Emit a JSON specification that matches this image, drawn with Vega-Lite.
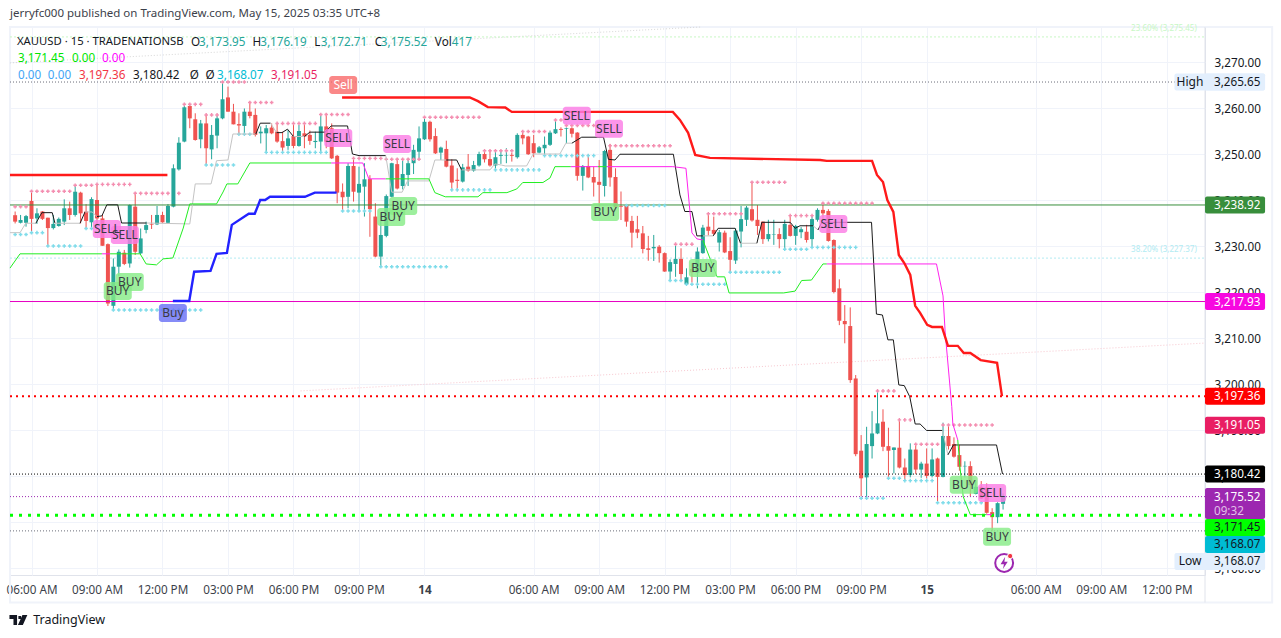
{"$schema":"https://vega.github.io/schema/vega-lite/v6.json","width":1195,"height":548,"autosize":"none","padding":{"left":10,"top":27,"right":76,"bottom":63},"background":"#ffffff","config":{"view":{"stroke":"#e0e3eb","strokeWidth":1},"font":"Noto Sans"},
"datasets":{
"candles":[
{"i":-3,"o":3236.7,"h":3237.5,"l":3234.9,"c":3235.3},{"i":-2,"o":3235.05,"h":3236.75,"l":3234.9,"c":3235.65},{"i":-1,"o":3235.05,"h":3236.75,"l":3234.2,"c":3236.5},{"i":0,"o":3239.8,"h":3242,"l":3232.75,"c":3235.9},{"i":1,"o":3236,"h":3238.2,"l":3234.8,"c":3237.1},{"i":2,"o":3237.5,"h":3237.6,"l":3235.65,"c":3235.9},{"i":3,"o":3236.15,"h":3236.15,"l":3229.85,"c":3233.9},{"i":4,"o":3233.9,"h":3236.75,"l":3233.6,"c":3234.8},{"i":5,"o":3234.35,"h":3236.2,"l":3234.2,"c":3235.9},{"i":6,"o":3235.3,"h":3240.15,"l":3234.55,"c":3238.2},{"i":7,"o":3238.2,"h":3239.65,"l":3235.65,"c":3236.75},{"i":8,"o":3236.75,"h":3243.25,"l":3236.4,"c":3241.8},{"i":9,"o":3241.6,"h":3241.8,"l":3234.9,"c":3237.1},{"i":10,"o":3237.5,"h":3239.1,"l":3233.8,"c":3235.45},{"i":11,"o":3235.15,"h":3240.6,"l":3233.8,"c":3240.2},{"i":12,"o":3240,"h":3243.5,"l":3233.5,"c":3236},{"i":13,"o":3236,"h":3236.75,"l":3230.05,"c":3230.05},{"i":14,"o":3230.4,"h":3230.55,"l":3216.95,"c":3217.5},{"i":15,"o":3217,"h":3227.3,"l":3215.95,"c":3225.5},{"i":16,"o":3225.5,"h":3229.25,"l":3223.45,"c":3228.75},{"i":17,"o":3228.55,"h":3229.15,"l":3225.85,"c":3226.1},{"i":18,"o":3226.2,"h":3239.05,"l":3225.3,"c":3238.9},{"i":19,"o":3238.55,"h":3241.6,"l":3228.05,"c":3228.75},{"i":20,"o":3228.4,"h":3233.8,"l":3228.25,"c":3231.65},{"i":21,"o":3233.5,"h":3235.3,"l":3232.75,"c":3234.55},{"i":22,"o":3234.8,"h":3236.75,"l":3233.7,"c":3234.65},{"i":23,"o":3234.7,"h":3238.7,"l":3234.55,"c":3236.75},{"i":24,"o":3236.75,"h":3237.45,"l":3235.05,"c":3235.15},{"i":25,"o":3235.05,"h":3239.1,"l":3234.9,"c":3238.7},{"i":26,"o":3238.55,"h":3247.75,"l":3238.4,"c":3246.9},{"i":27,"o":3246.65,"h":3253.65,"l":3246.4,"c":3252.45},{"i":28,"o":3252.7,"h":3260.9,"l":3252.55,"c":3260.15},{"i":29,"o":3260.45,"h":3260.9,"l":3255.6,"c":3257.75},{"i":30,"o":3257.55,"h":3258.85,"l":3252.9,"c":3253.05},{"i":31,"o":3253.2,"h":3257.4,"l":3251.25,"c":3256.65},{"i":32,"o":3256.65,"h":3258.5,"l":3247.6,"c":3251.25},{"i":33,"o":3251,"h":3256.3,"l":3248.85,"c":3254.15},{"i":34,"o":3254,"h":3258.3,"l":3251.25,"c":3257.75},{"i":35,"o":3257.75,"h":3265.65,"l":3257.55,"c":3261.9},{"i":36,"o":3262.3,"h":3264.65,"l":3259.2,"c":3259.2},{"i":37,"o":3259.2,"h":3260.9,"l":3256.45,"c":3256.45},{"i":38,"o":3256.5,"h":3258.85,"l":3254.15,"c":3256.2},{"i":39,"o":3256.1,"h":3259.9,"l":3254.15,"c":3259.2},{"i":40,"o":3259.2,"h":3261.4,"l":3257.75,"c":3258.25},{"i":41,"o":3258.5,"h":3259.9,"l":3253.8,"c":3254.15},{"i":42,"o":3254.5,"h":3256,"l":3252.3,"c":3254.85},{"i":43,"o":3254.5,"h":3256.3,"l":3250.3,"c":3255.6},{"i":44,"o":3255.75,"h":3256.65,"l":3254.3,"c":3254.5},{"i":45,"o":3254.85,"h":3256.8,"l":3252.45,"c":3252.7},{"i":46,"o":3252.8,"h":3254.85,"l":3250.5,"c":3251.4},{"i":47,"o":3251.75,"h":3255.2,"l":3250.9,"c":3253.4},{"i":48,"o":3253.9,"h":3256.65,"l":3251.25,"c":3251.75},{"i":49,"o":3251.75,"h":3256.3,"l":3251.6,"c":3255},{"i":50,"o":3254.5,"h":3256.3,"l":3251.25,"c":3253.8},{"i":51,"o":3254.15,"h":3255.1,"l":3252,"c":3252.85},{"i":52,"o":3252.6,"h":3254.85,"l":3251.25,"c":3252.85},{"i":53,"o":3252.7,"h":3258.65,"l":3250.5,"c":3256},{"i":54,"o":3256,"h":3258.85,"l":3251.25,"c":3252.7},{"i":55,"o":3255.6,"h":3256.65,"l":3248.9,"c":3249.05},{"i":56,"o":3249.6,"h":3249.8,"l":3239.3,"c":3241.6},{"i":57,"o":3241.8,"h":3243.6,"l":3237.7,"c":3240.6},{"i":58,"o":3240.7,"h":3248,"l":3238.2,"c":3247.4},{"i":59,"o":3247.4,"h":3249.3,"l":3239.65,"c":3241.8},{"i":60,"o":3241.6,"h":3247.25,"l":3237.45,"c":3243.5},{"i":61,"o":3242.9,"h":3248,"l":3236.4,"c":3244.5},{"i":62,"o":3244.55,"h":3245.4,"l":3232,"c":3238},{"i":63,"o":3236.4,"h":3239.3,"l":3227.55,"c":3227.7},{"i":64,"o":3227.7,"h":3237.25,"l":3225.5,"c":3232.4},{"i":65,"o":3232.2,"h":3241.2,"l":3231.9,"c":3240.85},{"i":66,"o":3240.7,"h":3248.1,"l":3240.6,"c":3248},{"i":67,"o":3247.8,"h":3249.05,"l":3242.3,"c":3242.5},{"i":68,"o":3243.05,"h":3248.9,"l":3242.3,"c":3245.65},{"i":69,"o":3245.45,"h":3249.05,"l":3243.05,"c":3248},{"i":70,"o":3248,"h":3252,"l":3245.65,"c":3250.9},{"i":71,"o":3250.5,"h":3256,"l":3248.7,"c":3253.4},{"i":72,"o":3253.2,"h":3258,"l":3253.05,"c":3257},{"i":73,"o":3257,"h":3257.25,"l":3252.7,"c":3253.2},{"i":74,"o":3253.9,"h":3255.6,"l":3250,"c":3250.15},{"i":75,"o":3250.3,"h":3251.6,"l":3248.7,"c":3251.4},
{"i":76,"o":3251.1,"h":3252.9,"l":3247.1,"c":3247.25},{"i":77,"o":3247.5,"h":3248.85,"l":3242.05,"c":3243.8},{"i":78,"o":3244.4,"h":3246.9,"l":3242.05,"c":3244.15},{"i":79,"o":3244,"h":3247.85,"l":3243.8,"c":3247.1},{"i":80,"o":3247.25,"h":3250,"l":3246.15,"c":3246.4},{"i":81,"o":3246.4,"h":3248.5,"l":3246.15,"c":3247.6},{"i":82,"o":3247.5,"h":3250.5,"l":3247.25,"c":3250},{"i":83,"o":3250,"h":3250.9,"l":3248.15,"c":3248.85},{"i":84,"o":3248.9,"h":3250.9,"l":3247.25,"c":3247.5},{"i":85,"o":3247.5,"h":3250.9,"l":3246.4,"c":3249.3},{"i":86,"o":3249.6,"h":3250.9,"l":3247.85,"c":3249.8},{"i":87,"o":3249.6,"h":3251.25,"l":3248,"c":3249.7},{"i":88,"o":3249.8,"h":3250.3,"l":3248.35,"c":3249.6},{"i":89,"o":3249.3,"h":3254.5,"l":3249,"c":3254.15},{"i":90,"o":3254.15,"h":3254.85,"l":3252.1,"c":3253.4},{"i":91,"o":3253.8,"h":3253.95,"l":3249.8,"c":3249.95},{"i":92,"o":3252.35,"h":3254.15,"l":3249.3,"c":3250.15},{"i":93,"o":3250.3,"h":3251.75,"l":3250.15,"c":3251.45},{"i":94,"o":3251.25,"h":3253.8,"l":3249.8,"c":3252},{"i":95,"o":3252,"h":3255.1,"l":3251.75,"c":3254.65},{"i":96,"o":3254.5,"h":3257.4,"l":3254.35,"c":3255.4},{"i":97,"o":3255.45,"h":3255.8,"l":3253.8,"c":3255.25},{"i":98,"o":3255.45,"h":3255.75,"l":3252.35,"c":3255.6},{"i":99,"o":3255.6,"h":3255.8,"l":3253.6,"c":3254.4},{"i":100,"o":3254.65,"h":3254.75,"l":3244.2,"c":3245.25},{"i":101,"o":3245.25,"h":3247.6,"l":3242.05,"c":3247.4},{"i":102,"o":3247.4,"h":3249.95,"l":3244.75,"c":3244.9},{"i":103,"o":3245,"h":3247.25,"l":3240.75,"c":3243.8},{"i":104,"o":3243.95,"h":3248.7,"l":3238.55,"c":3243.3},{"i":105,"o":3243.05,"h":3250.9,"l":3240.75,"c":3250.65},{"i":106,"o":3250.9,"h":3252.2,"l":3242.9,"c":3244.9},{"i":107,"o":3245,"h":3246.9,"l":3238.2,"c":3238.45},{"i":108,"o":3238.7,"h":3241.85,"l":3235.65,"c":3238.55},{"i":109,"o":3238.9,"h":3238.9,"l":3234.2,"c":3235.3},{"i":110,"o":3235.45,"h":3236.55,"l":3229.65,"c":3232.9},{"i":111,"o":3233.65,"h":3236.55,"l":3231.7,"c":3232.9},{"i":112,"o":3232.75,"h":3234.35,"l":3228.4,"c":3229.35},{"i":113,"o":3229.5,"h":3232.2,"l":3226.8,"c":3229.15},{"i":114,"o":3229.5,"h":3232.4,"l":3226.75,"c":3229.8},{"i":115,"o":3229.85,"h":3230.2,"l":3226.4,"c":3228.45},{"i":116,"o":3228.45,"h":3228.6,"l":3224.4,"c":3224.45},{"i":117,"o":3224.45,"h":3227.1,"l":3222.5,"c":3226.5},{"i":118,"o":3226.1,"h":3230.45,"l":3223.3,"c":3227.2},{"i":119,"o":3227.2,"h":3229.5,"l":3222.6,"c":3223.9},{"i":120,"o":3221.7,"h":3225.15,"l":3221.5,"c":3223.2},{"i":121,"o":3225,"h":3226.25,"l":3222.05,"c":3224.25},{"i":122,"o":3224.2,"h":3229.7,"l":3220.8,"c":3228.8},{"i":123,"o":3228.45,"h":3234.6,"l":3228.3,"c":3234},{"i":124,"o":3234.2,"h":3237,"l":3232.3,"c":3233.3},{"i":125,"o":3233.5,"h":3236.4,"l":3232.4,"c":3232.65},{"i":126,"o":3230.75,"h":3233.5,"l":3228.8,"c":3233},{"i":127,"o":3232.9,"h":3233.35,"l":3228.45,"c":3228.6},{"i":128,"o":3228.9,"h":3231.9,"l":3224.2,"c":3227},{"i":129,"o":3226.85,"h":3233.85,"l":3226.1,"c":3233.35},{"i":130,"o":3233.15,"h":3238.7,"l":3229.7,"c":3235.85},{"i":131,"o":3235.7,"h":3238.7,"l":3234.35,"c":3238.35},{"i":132,"o":3238,"h":3244,"l":3235.3,"c":3235.55},{"i":133,"o":3235.7,"h":3238.9,"l":3232.4,"c":3234.35},{"i":134,"o":3235.3,"h":3235.3,"l":3230.45,"c":3231.5},{"i":135,"o":3231.5,"h":3235.7,"l":3231,"c":3232.6},{"i":136,"o":3232.5,"h":3235.7,"l":3230.25,"c":3232.6},{"i":137,"o":3232.6,"h":3233.85,"l":3229.5,"c":3231.5},{"i":138,"o":3231.5,"h":3235.7,"l":3229.3,"c":3234.8},{"i":139,"o":3234.6,"h":3236.75,"l":3232.05,"c":3232.2},{"i":140,"o":3232.2,"h":3234.6,"l":3230.25,"c":3234.35},{"i":141,"o":3233,"h":3234.1,"l":3231.7,"c":3233.65},{"i":142,"o":3233.1,"h":3234.6,"l":3230.75,"c":3231.3},{"i":143,"o":3231.5,"h":3236.55,"l":3229.75,"c":3235.85},{"i":144,"o":3235.7,"h":3238.2,"l":3235.3,"c":3237.85},{"i":145,"o":3237.85,"h":3239.45,"l":3235.7,"c":3237.1},{"i":146,"o":3237.6,"h":3238,"l":3230.95,"c":3231.1},{"i":147,"o":3231.3,"h":3231.45,"l":3219.7,"c":3220},{"i":148,"o":3220.8,"h":3222.75,"l":3212.8,"c":3213.75},{"i":149,"o":3213.7,"h":3217.15,"l":3208.85,"c":3213},{"i":150,"o":3212.6,"h":3216.65,"l":3200.25,"c":3200.85},{"i":151,"o":3201.2,"h":3201.95,"l":3184.3,"c":3184.75},{"i":152,"o":3185.5,"h":3188.9,"l":3175.6,"c":3179.5},{"i":153,"o":3179.7,"h":3190.7,"l":3175.25,"c":3186.95},{"i":154,"o":3186.5,"h":3194.1,"l":3183.8,"c":3189.25},{"i":155,"o":3189.25,"h":3198.45,"l":3189.1,"c":3191.45},{"i":156,"o":3191.8,"h":3194.5,"l":3185.4,"c":3186.35},{"i":157,"o":3186.5,"h":3190.5,"l":3179.6,"c":3185.5},{"i":158,"o":3185.65,"h":3186.2,"l":3180.55,"c":3186.2},{"i":159,"o":3186.15,"h":3192.15,"l":3181.65,"c":3181.85},{"i":160,"o":3181.85,"h":3183.8,"l":3179.1,"c":3180.2},{"i":161,"o":3180.2,"h":3187.1,"l":3179.7,"c":3185.75},{"i":162,"o":3185.75,"h":3186.7,"l":3180.4,"c":3181.4},{"i":163,"o":3181.4,"h":3183.1,"l":3179.6,"c":3182.7},{"i":164,"o":3182.7,"h":3186,"l":3179.45,"c":3180},{"i":165,"o":3180,"h":3186,"l":3179.7,"c":3183.6},{"i":166,"o":3183.8,"h":3184,"l":3174.2,"c":3179.8},{"i":167,"o":3179.8,"h":3191.6,"l":3179.7,"c":3188.7},{"i":168,"o":3188.7,"h":3190.85,"l":3185.75,"c":3186.5},{"i":169,"o":3186.95,"h":3188.4,"l":3184,"c":3184.2},{"i":170,"o":3184.55,"h":3186.7,"l":3181.15,"c":3182},{"i":171,"o":3182.1,"h":3183.2,"l":3179.7,"c":3182.2},{"i":172,"o":3182.15,"h":3183.2,"l":3175.6,"c":3178},{"i":173,"o":3176.1,"h":3179,"l":3176,"c":3177.65},{"i":174,"o":3177.65,"h":3178.9,"l":3175,"c":3175.1},{"i":175,"o":3177.5,"h":3178.4,"l":3171.8,"c":3172},{"i":176,"o":3172.15,"h":3173,"l":3168.07,"c":3171.05},{"i":177,"o":3171.05,"h":3174.3,"l":3169.75,"c":3174.1},{"i":178,"o":3173.95,"h":3176.19,"l":3172.71,"c":3175.52}],
"pinkStops":[{"i":-3,"p":3238.55},{"i":-2,"p":3238.55},{"i":-1,"p":3238.55},{"i":0,"p":3241.9},{"i":1,"p":3241.9},{"i":2,"p":3241.9},{"i":3,"p":3241.9},{"i":4,"p":3241.9},{"i":5,"p":3241.9},{"i":6,"p":3241.9},{"i":7,"p":3241.9},{"i":8,"p":3243.2},{"i":9,"p":3243.2},{"i":10,"p":3243.2},{"i":11,"p":3243.2},{"i":12,"p":3243.4},{"i":13,"p":3243.4},{"i":14,"p":3243.4},{"i":15,"p":3243.4},{"i":16,"p":3243.4},{"i":17,"p":3243.4},{"i":18,"p":3243.4},{"i":19,"p":3241.45},{"i":20,"p":3241.45},{"i":21,"p":3241.45},{"i":22,"p":3241.45},{"i":23,"p":3241.45},{"i":24,"p":3241.45},{"i":25,"p":3241.45},{"i":27,"p":3241.45},{"i":28,"p":3260.8},{"i":29,"p":3260.8},{"i":30,"p":3260.8},{"i":31,"p":3260.8},{"i":32,"p":3258.5},{"i":33,"p":3258.5},{"i":34,"p":3258.5},{"i":35,"p":3265.65},{"i":36,"p":3265.65},{"i":37,"p":3265.65},{"i":38,"p":3265.65},{"i":39,"p":3265.65},{"i":40,"p":3261.2},{"i":41,"p":3261.2},{"i":42,"p":3261.2},{"i":43,"p":3261.2},{"i":44,"p":3261.2},{"i":45,"p":3256.65},{"i":46,"p":3256.65},{"i":47,"p":3256.65},{"i":48,"p":3256.65},{"i":49,"p":3256.65},{"i":50,"p":3256.65},{"i":51,"p":3256.65},{"i":52,"p":3256.65},{"i":53,"p":3258.6},{"i":54,"p":3258.6},{"i":55,"p":3258.6},{"i":56,"p":3258.6},{"i":57,"p":3258.6},{"i":58,"p":3258.6},{"i":59,"p":3249.05},{"i":60,"p":3249.05},{"i":61,"p":3249.05},{"i":62,"p":3249.05},{"i":63,"p":3249.05},{"i":64,"p":3249.05},{"i":65,"p":3248.85},{"i":66,"p":3248.85},{"i":67,"p":3248.85},{"i":68,"p":3248.85},{"i":69,"p":3248.85},{"i":70,"p":3248.85},{"i":71,"p":3248.85},{"i":72,"p":3258},{"i":73,"p":3258},{"i":74,"p":3258},{"i":75,"p":3258},{"i":76,"p":3258},{"i":77,"p":3258},{"i":78,"p":3258},{"i":79,"p":3258},{"i":80,"p":3258},{"i":81,"p":3258},{"i":82,"p":3258},{"i":83,"p":3250.7},{"i":84,"p":3250.7},{"i":85,"p":3250.7},{"i":86,"p":3250.7},{"i":87,"p":3250.7},{"i":88,"p":3250.7},{"i":90,"p":3254.9},{"i":91,"p":3254.9},{"i":92,"p":3254.9},{"i":93,"p":3254.9},{"i":94,"p":3254.9},{"i":96,"p":3257.4},{"i":97,"p":3257.4},{"i":98,"p":3256.2},{"i":99,"p":3256.2},{"i":100,"p":3256.2},{"i":101,"p":3256.2},{"i":102,"p":3256.2},{"i":103,"p":3256.2},{"i":106,"p":3251.8},{"i":107,"p":3251.8},{"i":108,"p":3251.8},{"i":109,"p":3251.8},{"i":110,"p":3251.8},{"i":111,"p":3251.8},{"i":112,"p":3251.8},{"i":113,"p":3251.8},{"i":114,"p":3251.8},{"i":115,"p":3251.8},{"i":116,"p":3251.8},{"i":117,"p":3251.8},{"i":118,"p":3230.4},{"i":119,"p":3230.4},{"i":120,"p":3230.4},{"i":121,"p":3230.4},{"i":124,"p":3237},{"i":125,"p":3237},{"i":126,"p":3237},{"i":127,"p":3237},{"i":128,"p":3237},{"i":129,"p":3237},{"i":130,"p":3237},{"i":132,"p":3243.85},{"i":133,"p":3243.85},{"i":134,"p":3243.85},{"i":135,"p":3243.85},{"i":136,"p":3243.85},{"i":137,"p":3243.85},{"i":138,"p":3243.85},{"i":139,"p":3236.6},{"i":140,"p":3236.6},{"i":141,"p":3236.6},{"i":142,"p":3236.6},{"i":143,"p":3236.6},{"i":145,"p":3239.3},{"i":146,"p":3239.3},{"i":147,"p":3239.3},{"i":148,"p":3239.3},{"i":149,"p":3239.3},{"i":150,"p":3239.3},{"i":151,"p":3239.3},{"i":152,"p":3239.3},{"i":153,"p":3239.3},{"i":154,"p":3239.3},{"i":155,"p":3198.5},{"i":156,"p":3198.5},{"i":157,"p":3198.5},{"i":158,"p":3198.5},{"i":159,"p":3192.2},{"i":160,"p":3192.2},{"i":161,"p":3192.2},{"i":162,"p":3186.9},{"i":163,"p":3186.9},{"i":164,"p":3186.9},{"i":165,"p":3186.9},{"i":166,"p":3186.9},{"i":167,"p":3191.1},{"i":168,"p":3191.1},{"i":169,"p":3191.1},{"i":170,"p":3191.1},{"i":171,"p":3191.1},{"i":172,"p":3191.1},{"i":173,"p":3191.1},{"i":174,"p":3191.1},{"i":175,"p":3191.1},{"i":176,"p":3191.1}],
"cyanStops":[{"i":-3,"p":3232.5},{"i":-2,"p":3232.5},{"i":-1,"p":3232.5},{"i":0,"p":3232.9},{"i":1,"p":3232.9},{"i":2,"p":3232.9},{"i":3,"p":3230},{"i":4,"p":3230},{"i":5,"p":3230},{"i":6,"p":3230},{"i":7,"p":3230},{"i":8,"p":3230},{"i":9,"p":3230},{"i":10,"p":3233.8},{"i":11,"p":3233.8},{"i":15,"p":3216.1},{"i":16,"p":3216.1},{"i":17,"p":3216.1},{"i":18,"p":3216.1},{"i":19,"p":3216.1},{"i":20,"p":3216.1},{"i":21,"p":3216.1},{"i":22,"p":3216.1},{"i":23,"p":3216.1},{"i":24,"p":3216.1},{"i":25,"p":3216.1},{"i":26,"p":3216.1},{"i":27,"p":3216.1},{"i":28,"p":3216.1},{"i":29,"p":3216.1},{"i":30,"p":3216.1},{"i":31,"p":3216.1},{"i":32,"p":3247.6},{"i":33,"p":3247.6},{"i":34,"p":3247.6},{"i":35,"p":3247.6},{"i":36,"p":3247.6},{"i":37,"p":3247.6},{"i":38,"p":3254.3},{"i":39,"p":3254.3},{"i":40,"p":3254.3},{"i":43,"p":3250.35},{"i":44,"p":3250.35},{"i":45,"p":3250.35},{"i":46,"p":3250.35},{"i":47,"p":3250.35},{"i":48,"p":3250.35},{"i":49,"p":3250.35},{"i":50,"p":3250.35},{"i":51,"p":3250.35},{"i":52,"p":3250.35},{"i":53,"p":3250.35},{"i":54,"p":3250.35},{"i":57,"p":3237.6},{"i":58,"p":3237.6},{"i":59,"p":3237.6},{"i":60,"p":3237.6},{"i":61,"p":3237.6},{"i":62,"p":3237.6},{"i":64,"p":3225.5},{"i":65,"p":3225.5},{"i":66,"p":3225.5},{"i":67,"p":3225.5},{"i":68,"p":3225.5},{"i":69,"p":3225.5},{"i":70,"p":3225.5},{"i":71,"p":3225.5},{"i":72,"p":3225.5},{"i":73,"p":3225.5},{"i":74,"p":3225.5},{"i":75,"p":3225.5},{"i":76,"p":3225.5},{"i":77,"p":3242.2},{"i":78,"p":3242.2},{"i":79,"p":3242.2},{"i":80,"p":3242.2},{"i":81,"p":3242.2},{"i":82,"p":3242.2},{"i":83,"p":3242.2},{"i":84,"p":3242.2},{"i":85,"p":3246.55},{"i":86,"p":3246.55},{"i":87,"p":3246.55},{"i":88,"p":3246.55},{"i":89,"p":3246.55},{"i":90,"p":3246.55},{"i":91,"p":3246.55},{"i":92,"p":3246.55},{"i":93,"p":3246.55},{"i":94,"p":3249.65},{"i":95,"p":3249.65},{"i":96,"p":3249.65},{"i":97,"p":3249.65},{"i":98,"p":3249.65},{"i":99,"p":3249.65},{"i":100,"p":3249.65},{"i":101,"p":3249.65},{"i":102,"p":3249.65},{"i":103,"p":3249.65},{"i":109,"p":3238.8},{"i":110,"p":3238.8},{"i":111,"p":3238.8},{"i":112,"p":3238.8},{"i":113,"p":3238.8},{"i":114,"p":3238.8},{"i":115,"p":3238.8},{"i":116,"p":3238.8},{"i":117,"p":3222.5},{"i":118,"p":3222.5},{"i":119,"p":3222.5},{"i":120,"p":3221.7},{"i":121,"p":3221.7},{"i":122,"p":3221.7},{"i":123,"p":3221.7},{"i":124,"p":3221.7},{"i":125,"p":3221.7},{"i":126,"p":3221.7},{"i":127,"p":3221.7},{"i":128,"p":3224.3},{"i":129,"p":3224.3},{"i":130,"p":3224.3},{"i":131,"p":3224.3},{"i":132,"p":3224.3},{"i":133,"p":3224.3},{"i":134,"p":3224.3},{"i":135,"p":3224.3},{"i":136,"p":3224.3},{"i":137,"p":3224.3},{"i":138,"p":3229.3},{"i":139,"p":3229.3},{"i":140,"p":3229.3},{"i":141,"p":3229.3},{"i":142,"p":3229.3},{"i":143,"p":3229.7},{"i":144,"p":3229.7},{"i":145,"p":3229.7},{"i":146,"p":3229.7},{"i":147,"p":3229.7},{"i":148,"p":3229.7},{"i":149,"p":3229.7},{"i":150,"p":3229.7},{"i":151,"p":3229.7},{"i":152,"p":3175.15},{"i":153,"p":3175.15},{"i":154,"p":3175.15},{"i":155,"p":3175.15},{"i":156,"p":3175.15},{"i":157,"p":3179.5},{"i":158,"p":3179.5},{"i":159,"p":3179.5},{"i":160,"p":3179},{"i":161,"p":3179},{"i":162,"p":3179},{"i":163,"p":3179},{"i":164,"p":3179},{"i":165,"p":3179},{"i":166,"p":3174.2},{"i":167,"p":3174.2},{"i":168,"p":3174.2},{"i":169,"p":3174.2},{"i":170,"p":3174.2},{"i":171,"p":3174.2},{"i":172,"p":3174.2},{"i":173,"p":3174.2},{"i":174,"p":3174.2}],
"thin":[
{"g":"u1","s":"gray","i":-3.94,"p":3232.9},{"g":"u1","s":"gray","i":-2.1,"p":3232.9},{"g":"u1","s":"gray","i":-1.06,"p":3234.95},{"g":"u1","s":"gray","i":0.8,"p":3234.95},
{"g":"u2","s":"black","i":0.8,"p":3234.95},{"g":"u2","s":"black","i":1.9,"p":3237.25},{"g":"u2","s":"black","i":3.8,"p":3237.25},{"g":"u2","s":"black","i":4.3,"p":3234.95},
{"g":"u3","s":"gray","i":4.3,"p":3234.95},{"g":"u3","s":"gray","i":8.9,"p":3234.95},
{"g":"u4","s":"black","i":8.9,"p":3234.95},{"g":"u4","s":"black","i":9.8,"p":3237.4},
{"g":"u5","s":"gray","i":9.8,"p":3237.4},{"g":"u5","s":"gray","i":11.1,"p":3237.4},{"g":"u5","s":"gray","i":12,"p":3236.4},
{"g":"u6","s":"black","i":12,"p":3236.4},{"g":"u6","s":"black","i":12.9,"p":3236.55},{"g":"u6","s":"black","i":13.8,"p":3238.95},{"g":"u6","s":"black","i":15.8,"p":3238.95},{"g":"u6","s":"black","i":16.5,"p":3235},{"g":"u6","s":"black","i":21.1,"p":3235},
{"g":"u7","s":"gray","i":21.1,"p":3235},{"g":"u7","s":"gray","i":29,"p":3234.8},{"g":"u7","s":"gray","i":30,"p":3243.5},{"g":"u7","s":"gray","i":32.9,"p":3243.5},{"g":"u7","s":"gray","i":33.9,"p":3248.55},{"g":"u7","s":"gray","i":36,"p":3248.7},{"g":"u7","s":"gray","i":36.9,"p":3254.35},{"g":"u7","s":"gray","i":41.1,"p":3254.35},
{"g":"u8","s":"black","i":41.1,"p":3254.35},{"g":"u8","s":"black","i":41.9,"p":3256.7},{"g":"u8","s":"black","i":43.8,"p":3256.7},
{"g":"u9","s":"gray","i":43.8,"p":3256.7},{"g":"u9","s":"gray","i":44.9,"p":3254.65},
{"g":"u10","s":"black","i":44.9,"p":3254.65},{"g":"u10","s":"black","i":45.9,"p":3254.65},{"g":"u10","s":"black","i":46.9,"p":3255.4},{"g":"u10","s":"black","i":48,"p":3253.8},
{"g":"u11","s":"gray","i":48,"p":3253.8},{"g":"u11","s":"gray","i":50,"p":3253.8},
{"g":"u12","s":"black","i":50,"p":3253.8},{"g":"u12","s":"black","i":51,"p":3254.75},{"g":"u12","s":"black","i":53.8,"p":3254.75},{"g":"u12","s":"black","i":54.9,"p":3256.1},{"g":"u12","s":"black","i":57.9,"p":3256.1},{"g":"u12","s":"black","i":58.8,"p":3250},{"g":"u12","s":"black","i":60,"p":3249.65},{"g":"u12","s":"black","i":64.9,"p":3249.65},
{"g":"u13","s":"gray","i":64.9,"p":3249.65},{"g":"u13","s":"gray","i":66,"p":3241.7},{"g":"u13","s":"gray","i":67.9,"p":3241.7},{"g":"u13","s":"gray","i":68.9,"p":3244.15},{"g":"u13","s":"gray","i":72.8,"p":3244.15},{"g":"u13","s":"gray","i":73.9,"p":3248.7},{"g":"u13","s":"gray","i":76,"p":3248.7},
{"g":"u14","s":"black","i":76,"p":3248.7},{"g":"u14","s":"black","i":77.9,"p":3248.7},{"g":"u14","s":"black","i":78.8,"p":3246.55},
{"g":"u15","s":"gray","i":78.8,"p":3246.55},{"g":"u15","s":"gray","i":84,"p":3246.55},{"g":"u15","s":"gray","i":84.9,"p":3247.85},{"g":"u15","s":"gray","i":86.1,"p":3247.6},{"g":"u15","s":"gray","i":86.8,"p":3247.4},{"g":"u15","s":"gray","i":90.7,"p":3247.4},{"g":"u15","s":"gray","i":91.9,"p":3250},{"g":"u15","s":"gray","i":96.8,"p":3250},{"g":"u15","s":"gray","i":97.9,"p":3252.35},{"g":"u15","s":"gray","i":99,"p":3252.35},
{"g":"u16","s":"black","i":99,"p":3252.35},{"g":"u16","s":"black","i":100.8,"p":3253.65},{"g":"u16","s":"black","i":104.8,"p":3253.65},{"g":"u16","s":"black","i":105.7,"p":3248.85},{"g":"u16","s":"black","i":106.9,"p":3248.7},{"g":"u16","s":"black","i":107.8,"p":3249.95},{"g":"u16","s":"black","i":117.6,"p":3249.95},{"g":"u16","s":"black","i":118.8,"p":3241.1},{"g":"u16","s":"black","i":119.7,"p":3237.5},{"g":"u16","s":"black","i":121,"p":3237.5},{"g":"u16","s":"black","i":121.9,"p":3232.2},{"g":"u16","s":"black","i":123,"p":3232.2},
{"g":"u17","s":"gray","i":123,"p":3232.2},{"g":"u17","s":"gray","i":124.9,"p":3232.2},
{"g":"u18","s":"black","i":124.9,"p":3232.2},{"g":"u18","s":"black","i":125.8,"p":3233.85},{"g":"u18","s":"black","i":128.9,"p":3233.85},{"g":"u18","s":"black","i":129.9,"p":3230.6},
{"g":"u19","s":"gray","i":129.9,"p":3230.6},{"g":"u19","s":"gray","i":132.9,"p":3230.6},
{"g":"u20","s":"black","i":132.9,"p":3230.6},{"g":"u20","s":"black","i":133.8,"p":3235.15},{"g":"u20","s":"black","i":139,"p":3235.15},{"g":"u20","s":"black","i":139.9,"p":3233.85},{"g":"u20","s":"black","i":140.8,"p":3234.4},{"g":"u20","s":"black","i":143.2,"p":3234.4},
{"g":"u21","s":"gray","i":143.2,"p":3234.4},{"g":"u21","s":"gray","i":144.1,"p":3233.5},
{"g":"u22","s":"black","i":144.1,"p":3233.5},{"g":"u22","s":"black","i":144.8,"p":3235.15},{"g":"u22","s":"black","i":153.9,"p":3235.15},{"g":"u22","s":"black","i":154.8,"p":3215.2},{"g":"u22","s":"black","i":155.9,"p":3215},{"g":"u22","s":"black","i":156.9,"p":3209.6},{"g":"u22","s":"black","i":157.9,"p":3209.6},{"g":"u22","s":"black","i":158.9,"p":3199.8},{"g":"u22","s":"black","i":159.9,"p":3199.65},{"g":"u22","s":"black","i":160.9,"p":3197.25},{"g":"u22","s":"black","i":161.9,"p":3191.3},{"g":"u22","s":"black","i":162.8,"p":3191.3},{"g":"u22","s":"black","i":164,"p":3189.9},{"g":"u22","s":"black","i":166.9,"p":3189.9},
{"g":"u23","s":"gray","i":166.9,"p":3189.9},{"g":"u23","s":"gray","i":167.9,"p":3184.6},
{"g":"u24","s":"black","i":167.9,"p":3184.6},{"g":"u24","s":"black","i":168.9,"p":3186.75},{"g":"u24","s":"black","i":176.8,"p":3186.75},{"g":"u24","s":"black","i":177.9,"p":3180.42},
{"g":"l1","s":"lime","i":-3.94,"p":3225.2},{"g":"l1","s":"lime","i":-2.1,"p":3228.3},{"g":"l1","s":"lime","i":12.9,"p":3228.3},
{"g":"l2","s":"magenta","i":12.9,"p":3228.3},{"g":"l2","s":"magenta","i":14.4,"p":3228.3},
{"g":"l3","s":"lime","i":14.4,"p":3228.3},{"g":"l3","s":"lime","i":19.9,"p":3228.3},{"g":"l3","s":"lime","i":21,"p":3226.1},{"g":"l3","s":"lime","i":22.9,"p":3225.9},{"g":"l3","s":"lime","i":24.1,"p":3227.2},{"g":"l3","s":"lime","i":25.9,"p":3227.4},{"g":"l3","s":"lime","i":27.8,"p":3233.9},{"g":"l3","s":"lime","i":29,"p":3239.15},{"g":"l3","s":"lime","i":33.9,"p":3239.15},{"g":"l3","s":"lime","i":35.1,"p":3241.75},{"g":"l3","s":"lime","i":35.8,"p":3243.5},{"g":"l3","s":"lime","i":37.8,"p":3243.5},{"g":"l3","s":"lime","i":40,"p":3248.05},{"g":"l3","s":"lime","i":54.9,"p":3248.05},
{"g":"l4","s":"magenta","i":54.9,"p":3248.05},{"g":"l4","s":"magenta","i":60.7,"p":3248.05},{"g":"l4","s":"magenta","i":61.8,"p":3244.6},{"g":"l4","s":"magenta","i":64.9,"p":3244.6},
{"g":"l5","s":"lime","i":64.9,"p":3244.6},{"g":"l5","s":"lime","i":72.8,"p":3244.6},{"g":"l5","s":"lime","i":73.9,"p":3241.6},{"g":"l5","s":"lime","i":75.8,"p":3240.7},{"g":"l5","s":"lime","i":81.8,"p":3240.7},{"g":"l5","s":"lime","i":82.7,"p":3241.6},{"g":"l5","s":"lime","i":87.1,"p":3241.6},{"g":"l5","s":"lime","i":88.9,"p":3242.4},{"g":"l5","s":"lime","i":90,"p":3243.8},{"g":"l5","s":"lime","i":93.7,"p":3243.8},{"g":"l5","s":"lime","i":95,"p":3244.8},{"g":"l5","s":"lime","i":95.9,"p":3247.25},{"g":"l5","s":"lime","i":98.8,"p":3247.25},
{"g":"l6","s":"magenta","i":98.8,"p":3247.25},{"g":"l6","s":"magenta","i":103.8,"p":3247.25},
{"g":"l7","s":"lime","i":103.8,"p":3247.25},{"g":"l7","s":"lime","i":105.4,"p":3247.25},
{"g":"l8","s":"magenta","i":105.4,"p":3247.25},{"g":"l8","s":"magenta","i":117.5,"p":3247.25},{"g":"l8","s":"magenta","i":119.9,"p":3246.9},{"g":"l8","s":"magenta","i":121,"p":3232.85},{"g":"l8","s":"magenta","i":121.9,"p":3231.55},{"g":"l8","s":"magenta","i":123,"p":3231.3},
{"g":"l9","s":"lime","i":123,"p":3231.3},{"g":"l9","s":"lime","i":123.7,"p":3229.15},{"g":"l9","s":"lime","i":125.6,"p":3223.3},{"g":"l9","s":"lime","i":127,"p":3223.3},{"g":"l9","s":"lime","i":127.8,"p":3219.8},{"g":"l9","s":"lime","i":137.8,"p":3219.8},{"g":"l9","s":"lime","i":139.9,"p":3220.2},{"g":"l9","s":"lime","i":141.1,"p":3222.5},{"g":"l9","s":"lime","i":142.9,"p":3222.6},{"g":"l9","s":"lime","i":145,"p":3226.1},{"g":"l9","s":"lime","i":145.7,"p":3226.1},
{"g":"l10","s":"magenta","i":145.7,"p":3226.1},{"g":"l10","s":"magenta","i":165.8,"p":3226.1},{"g":"l10","s":"magenta","i":167,"p":3219.15},{"g":"l10","s":"magenta","i":167.4,"p":3211.1},{"g":"l10","s":"magenta","i":168.6,"p":3195.1},{"g":"l10","s":"magenta","i":168.8,"p":3191.3},{"g":"l10","s":"magenta","i":169.7,"p":3187.85},
{"g":"l11","s":"lime","i":169.7,"p":3187.85},{"g":"l11","s":"lime","i":170.1,"p":3182},{"g":"l11","s":"lime","i":170.7,"p":3175.5},{"g":"l11","s":"lime","i":172,"p":3171.6},{"g":"l11","s":"lime","i":175,"p":3171.6},
{"g":"l12","s":"magenta","i":175,"p":3171.6},{"g":"l12","s":"magenta","i":176,"p":3171.6}],
"thick":[
{"g":"r1","s":"red","i":-3.94,"p":3245.45},{"g":"r1","s":"red","i":24.9,"p":3245.45},
{"g":"r2","s":"red","i":56.9,"p":3262.3},{"g":"r2","s":"red","i":80.3,"p":3262.3},{"g":"r2","s":"red","i":81.8,"p":3261.5},{"g":"r2","s":"red","i":83.6,"p":3260.2},{"g":"r2","s":"red","i":86.8,"p":3260.1},{"g":"r2","s":"red","i":88,"p":3259.15},{"g":"r2","s":"red","i":117.5,"p":3259.15},{"g":"r2","s":"red","i":118.8,"p":3257.4},{"g":"r2","s":"red","i":120.3,"p":3254.6},{"g":"r2","s":"red","i":121.6,"p":3249.8},{"g":"r2","s":"red","i":124.3,"p":3249.15},{"g":"r2","s":"red","i":144.5,"p":3248.7},{"g":"r2","s":"red","i":145.7,"p":3248.5},{"g":"r2","s":"red","i":154,"p":3248.5},{"g":"r2","s":"red","i":154.9,"p":3245.45},{"g":"r2","s":"red","i":156,"p":3243.9},{"g":"r2","s":"red","i":156.8,"p":3240},{"g":"r2","s":"red","i":157.9,"p":3237.4},{"g":"r2","s":"red","i":158.9,"p":3228.05},{"g":"r2","s":"red","i":159.9,"p":3226.3},{"g":"r2","s":"red","i":161,"p":3223.7},{"g":"r2","s":"red","i":161.9,"p":3217},{"g":"r2","s":"red","i":162.8,"p":3215.45},{"g":"r2","s":"red","i":164.1,"p":3212.85},{"g":"r2","s":"red","i":165,"p":3212.4},{"g":"r2","s":"red","i":166.8,"p":3212.4},{"g":"r2","s":"red","i":167.9,"p":3208.3},{"g":"r2","s":"red","i":169.7,"p":3208.3},{"g":"r2","s":"red","i":170.8,"p":3206.75},{"g":"r2","s":"red","i":172,"p":3206.75},{"g":"r2","s":"red","i":173.9,"p":3205.2},{"g":"r2","s":"red","i":176.9,"p":3204.6},{"g":"r2","s":"red","i":177.8,"p":3197.36},
{"g":"b1","s":"blue","i":25.9,"p":3218.05},{"g":"b1","s":"blue","i":28.9,"p":3218.05},{"g":"b1","s":"blue","i":29.8,"p":3224.4},{"g":"b1","s":"blue","i":32.8,"p":3224.6},{"g":"b1","s":"blue","i":33.9,"p":3228.3},{"g":"b1","s":"blue","i":35.8,"p":3228.5},{"g":"b1","s":"blue","i":36.7,"p":3234.6},{"g":"b1","s":"blue","i":39.8,"p":3237},{"g":"b1","s":"blue","i":40.9,"p":3237},{"g":"b1","s":"blue","i":41.9,"p":3240},{"g":"b1","s":"blue","i":42.8,"p":3240},{"g":"b1","s":"blue","i":43.7,"p":3240.7},{"g":"b1","s":"blue","i":50.1,"p":3240.7},{"g":"b1","s":"blue","i":51.9,"p":3241.6},{"g":"b1","s":"blue","i":55.9,"p":3241.6}],
"signals":[{"t":"SELL","k":"sell","i":13.8,"p":3233.7},{"t":"SELL","k":"sell","i":17.1,"p":3232.4},{"t":"SELL","k":"sell","i":56.2,"p":3253.5},{"t":"SELL","k":"sell","i":67,"p":3252.2},{"t":"SELL","k":"sell","i":99.9,"p":3258.3},{"t":"SELL","k":"sell","i":105.8,"p":3255.5},{"t":"SELL","k":"sell","i":146.9,"p":3234.8},{"t":"SELL","k":"sell","i":176,"p":3176.3},{"t":"BUY","k":"buy","i":18,"p":3222.2},{"t":"BUY","k":"buy","i":15.8,"p":3220.2},{"t":"BUY","k":"buy","i":68.1,"p":3238.7},{"t":"BUY","k":"buy","i":65.9,"p":3236.3},{"t":"BUY","k":"buy","i":105.1,"p":3237.4},{"t":"BUY","k":"buy","i":123,"p":3225.2},{"t":"BUY","k":"buy","i":170.8,"p":3178.1},{"t":"BUY","k":"buy","i":176.9,"p":3166.8},{"t":"Sell","k":"bigsell","i":57.1,"p":3265},{"t":"Buy","k":"bigbuy","i":25.9,"p":3215.45}],
"tags":[{"v":"3,265.65","at":3265.65,"s":"high"},{"v":"3,238.92","at":3238.92,"s":"green"},{"v":"3,217.93","at":3217.93,"s":"magenta"},{"v":"3,197.36","at":3197.36,"s":"red"},{"v":"3,191.05","at":3191.05,"s":"pink"},{"v":"3,180.42","at":3180.42,"s":"black"},{"v":"3,175.52","at":3175.52,"s":"purple"},{"v":"09:32","at":3172.5,"s":"purple"},{"v":"3,171.45","at":3168.82,"s":"lime"},{"v":"3,168.07","at":3165.12,"s":"cyan"},{"v":"3,168.07","at":3161.43,"s":"low"}]
},
"layer":[
{"data":{"values":[{"k":"frame"}]},"mark":{"type":"rect","fill":null,"stroke":"#f0f3fa","strokeWidth":2},"encoding":{
"x":{"datum":-3.939,"type":"quantitative","scale":{"domain":[-3.939,214.996],"nice":false,"zero":false,"padding":0},"axis":{"title":null,"orient":"bottom","values":[0,12,24,36,48,60,72,92,104,116,128,140,152,164,184,196,208],"labelExpr":"{'0':'06:00 AM','12':'09:00 AM','24':'12:00 PM','36':'03:00 PM','48':'06:00 PM','60':'09:00 PM','72':'14','92':'06:00 AM','104':'09:00 AM','116':'12:00 PM','128':'03:00 PM','140':'06:00 PM','152':'09:00 PM','164':'15','184':'06:00 AM','196':'09:00 AM','208':'12:00 PM'}[datum.value]","labelFontWeight":{"condition":{"test":"datum.value==72||datum.value==164","value":"bold"},"value":"normal"},"labelOverlap":false,"labelBound":false,"labelFlush":false,"domain":false,"ticks":false,"grid":true,"gridColor":"#f0f3fa","gridWidth":1,"labelColor":"#3c3f4a","labelFont":"Noto Sans","labelFontSize":11.7,"labelPadding":9,"labelBaseline":"top"}},
"x2":{"datum":227.3},
"y":{"datum":3277.61,"type":"quantitative","scale":{"domain":[3158.48,3277.61],"nice":false,"zero":false},"axis":{"title":null,"orient":"right","values":[3160,3170,3180,3190,3200,3210,3220,3230,3240,3250,3260,3270],"format":",.2f","labelOverlap":false,"labelBound":false,"labelFlush":false,"domain":false,"ticks":false,"grid":true,"gridColor":"#f0f3fa","gridWidth":1,"labelColor":"#131722","labelFont":"Noto Sans","labelFontSize":11.7,"labelPadding":9,"labelAlign":"left","labelBaseline":"middle"}},
"y2":{"datum":3152.5}}},
{"data":{"values":[{"k":"sep"}]},"mark":{"type":"rule","color":"#e0e3eb","strokeWidth":1},"encoding":{"x":{"datum":214.996},"y":{"datum":3277.61},"y2":{"datum":3152.5}}},
{"data":{"values":[{"g":"a","i":49.3,"p":3198.5},{"g":"a","i":214.99,"p":3208.9}]},"mark":{"type":"line","color":"#f8c8d0","strokeWidth":1,"strokeDash":[1,2]},"encoding":{"x":{"field":"i","type":"quantitative"},"y":{"field":"p","type":"quantitative"},"detail":{"field":"g"}}},
{"data":{"values":[{"g":"b","i":-3.94,"p":3269.8},{"g":"b","i":122.5,"p":3277.6}]},"mark":{"type":"line","color":"#d8d8d8","strokeWidth":1,"strokeDash":[1,2]},"encoding":{"x":{"field":"i","type":"quantitative"},"y":{"field":"p","type":"quantitative"},"detail":{"field":"g"}}},
{"data":{"values":[{"p":3275.45}]},"mark":{"type":"rule","color":"#c8f7c5","strokeWidth":1,"strokeDash":[2,2]},"encoding":{"x":{"datum":-3.939},"x2":{"datum":214.996},"y":{"field":"p","type":"quantitative"}}},
{"data":{"values":[{"p":3227.37}]},"mark":{"type":"rule","color":"#b2ebf2","strokeWidth":1,"strokeDash":[2,2]},"encoding":{"x":{"datum":-3.939},"x2":{"datum":214.996},"y":{"field":"p","type":"quantitative"}}},
{"data":{"name":"candles"},"mark":{"type":"rule","strokeWidth":1},"encoding":{"x":{"field":"i","type":"quantitative"},"y":{"field":"l","type":"quantitative"},"y2":{"field":"h"},"color":{"condition":{"test":"datum.c>=datum.o","value":"#26a69a"},"value":"#ef5350"}}},
{"data":{"name":"candles"},"mark":{"type":"bar","width":4},"encoding":{"x":{"field":"i","type":"quantitative"},"y":{"field":"o","type":"quantitative"},"y2":{"field":"c"},"color":{"condition":{"test":"datum.c>=datum.o","value":"#26a69a"},"value":"#ef5350"}}},
{"data":{"values":[{"p":3238.92}]},"mark":{"type":"rule","color":"#388e3c","strokeWidth":1},"encoding":{"x":{"datum":-3.939},"x2":{"datum":214.996},"y":{"field":"p","type":"quantitative"}}},
{"data":{"values":[{"p":3217.93}]},"mark":{"type":"rule","color":"#e600c3","strokeWidth":1},"encoding":{"x":{"datum":-3.939},"x2":{"datum":214.996},"y":{"field":"p","type":"quantitative"}}},
{"data":{"values":[{"p":3197.36}]},"mark":{"type":"rule","color":"#ff0000","strokeWidth":2,"strokeDash":[2,4]},"encoding":{"x":{"datum":-3.939},"x2":{"datum":214.996},"y":{"field":"p","type":"quantitative"}}},
{"data":{"values":[{"p":3180.42}]},"mark":{"type":"rule","color":"#000000","strokeWidth":1,"strokeDash":[1,2]},"encoding":{"x":{"datum":-3.939},"x2":{"datum":214.996},"y":{"field":"p","type":"quantitative"}}},
{"data":{"values":[{"p":3175.52}]},"mark":{"type":"rule","color":"#9c27b0","strokeWidth":1,"strokeDash":[1,2]},"encoding":{"x":{"datum":-3.939},"x2":{"datum":214.996},"y":{"field":"p","type":"quantitative"}}},
{"data":{"values":[{"p":3171.45}]},"mark":{"type":"rule","color":"#00ff00","strokeWidth":3,"strokeDash":[3,6]},"encoding":{"x":{"datum":-3.939},"x2":{"datum":214.996},"y":{"field":"p","type":"quantitative"}}},
{"data":{"values":[{"p":3168.07},{"p":3265.65}]},"mark":{"type":"rule","color":"#6a6d78","strokeWidth":1,"strokeDash":[1,2]},"encoding":{"x":{"datum":-3.939},"x2":{"datum":214.996},"y":{"field":"p","type":"quantitative"}}},
{"data":{"name":"pinkStops"},"mark":{"type":"point","shape":"cross","filled":true,"size":13,"color":"#f48fb1","opacity":1,"strokeWidth":0},"encoding":{"x":{"field":"i","type":"quantitative"},"y":{"field":"p","type":"quantitative"}}},
{"data":{"name":"cyanStops"},"mark":{"type":"point","shape":"cross","filled":true,"size":13,"color":"#7fdcea","opacity":1,"strokeWidth":0},"encoding":{"x":{"field":"i","type":"quantitative"},"y":{"field":"p","type":"quantitative"}}},
{"data":{"name":"thin"},"mark":{"type":"line","strokeWidth":1,"interpolate":"linear"},"encoding":{"x":{"field":"i","type":"quantitative"},"y":{"field":"p","type":"quantitative"},"detail":{"field":"g"},"color":{"field":"s","scale":{"domain":["gray","black","lime","magenta","red","blue"],"range":["#c4c4c4","#1a1a1a","#22ee22","#ff22ee","#ff1a1a","#2222ff"]},"legend":null}}},
{"data":{"name":"thick"},"mark":{"type":"line","strokeWidth":2.4,"interpolate":"linear"},"encoding":{"x":{"field":"i","type":"quantitative"},"y":{"field":"p","type":"quantitative"},"detail":{"field":"g"},"color":{"field":"s","legend":null}}},
{"data":{"name":"signals"},"mark":{"type":"rect","width":28,"height":18,"cornerRadius":3,"opacity":0.82},"encoding":{"x":{"field":"i","type":"quantitative"},"y":{"field":"p","type":"quantitative"},"fill":{"field":"k","scale":{"domain":["sell","buy","bigsell","bigbuy","high","green","magenta","red","pink","black","purple","lime","cyan","low"],"range":["#fb7ee5","#88ec88","#f96e6e","#6a72f5","#e3effd","#388e3c","#f708e0","#ff0000","#e91e63","#000000","#9c27b0","#00ff00","#00bcd4","#e3effd"]},"legend":null}}},
{"data":{"name":"signals"},"mark":{"type":"text","fontSize":12,"font":"Noto Sans","align":"center","baseline":"middle"},"encoding":{"x":{"field":"i","type":"quantitative"},"y":{"field":"p","type":"quantitative"},"text":{"field":"t"},"color":{"condition":{"test":"datum.k=='bigsell'","value":"#ffffff"},"value":"#3a3a44"}}},
{"data":{"values":[{"at":3265.65},{"at":3161.43}]},"mark":{"type":"rect","height":17,"cornerRadius":2,"fill":"#e3effd"},"encoding":{"x":{"datum":209.4},"x2":{"datum":226},"y":{"field":"at","type":"quantitative"}}},
{"data":{"name":"tags"},"mark":{"type":"rect","height":17,"cornerRadius":2},"encoding":{"x":{"datum":215},"x2":{"datum":226},"y":{"field":"at","type":"quantitative"},"fill":{"field":"s","scale":{"domain":["sell","buy","bigsell","bigbuy","high","green","magenta","red","pink","black","purple","lime","cyan","low"],"range":["#fb7ee5","#88ec88","#f96e6e","#6a72f5","#e3effd","#388e3c","#f708e0","#ff0000","#e91e63","#000000","#9c27b0","#00ff00","#00bcd4","#e3effd"]},"legend":null}}},
{"data":{"name":"tags"},"mark":{"type":"text","fontSize":11.7,"font":"Noto Sans","align":"left","baseline":"middle"},"encoding":{"x":{"datum":216.64},"y":{"field":"at","type":"quantitative"},"text":{"field":"v"},"color":{"condition":[{"test":"datum.v=='09:32'","value":"#e1bee7"},{"test":"indexof(['lime','cyan','high','low'],datum.s)>=0","value":"#131722"}],"value":"#ffffff"},"fontWeight":{"condition":{"test":"indexof(['lime','cyan','high','low'],datum.s)>=0","value":"normal"},"value":"bold"}}},
{"data":{"values":[{"t":"High","at":3265.65},{"t":"Low","at":3161.43}]},"mark":{"type":"text","fontSize":12,"font":"Noto Sans","color":"#131722"},"encoding":{"x":{"datum":212.25},"y":{"field":"at","type":"quantitative"},"text":{"field":"t"}}},
{"data":{"values":[{"t":"38.20% (3,227.37)"}]},"mark":{"type":"text","fontSize":8,"font":"Noto Sans","color":"#b2ebf2","align":"right"},"encoding":{"x":{"datum":213.5},"y":{"datum":3229.1},"text":{"field":"t"}}},
{"data":{"values":[{"t":"23.60% (3,275.45)"}]},"mark":{"type":"text","fontSize":8,"font":"Noto Sans","color":"#c8f7c5","align":"right"},"encoding":{"x":{"datum":213.5},"y":{"datum":3277.2},"text":{"field":"t"}}},
{"data":{"values":[{"k":"bolt"}]},"mark":{"type":"point","shape":"circle","filled":false,"size":320,"color":"#9c27b0","strokeWidth":2,"opacity":1},"encoding":{"x":{"datum":178.2},"y":{"datum":3161.1}}},
{"data":{"values":[{"k":"bolt"}]},"mark":{"type":"point","shape":"M0.1,-0.6L-0.35,0.12L-0.02,0.12L-0.12,0.6L0.35,-0.12L0.02,-0.12Z","filled":true,"size":420,"color":"#9c27b0","strokeWidth":0,"opacity":1},"encoding":{"x":{"datum":178.2},"y":{"datum":3161.1}}},
{"data":{"values":[{"k":"dot"}]},"mark":{"type":"point","shape":"circle","filled":true,"size":28,"color":"#f23645","stroke":"#ffffff","strokeWidth":1,"opacity":1},"encoding":{"x":{"datum":179.3},"y":{"datum":3162.6}}},
{"data":{"values":[{"t":"jerryfc000 published on TradingView.com, May 15, 2025 03:35 UTC+8"}]},"mark":{"type":"text","fontSize":11.5,"font":"Noto Sans","color":"#3c3f4a","align":"left"},"encoding":{"x":{"datum":-3.94},"y":{"datum":3280.46},"text":{"field":"t"}}},
{"data":{"values":[{"t":"TradingView"}]},"mark":{"type":"text","fontSize":12.5,"font":"Noto Sans","color":"#131722","align":"left"},"encoding":{"x":{"datum":0.3},"y":{"datum":3148.7},"text":{"field":"t"}}},
{"data":{"values":[{"k":"logo"}]},"mark":{"type":"point","shape":"M-1,-0.55L-0.15,-0.55L-0.15,0.55L-0.55,0.55L-0.55,-0.1L-1,-0.1ZM0.45,-0.55L1,-0.55L0.5,0.55L-0.05,0.55ZM0,-0.45L0.3,-0.45L0.3,-0.1L0,-0.1Z","filled":true,"size":320,"color":"#131722","strokeWidth":0,"opacity":1},"encoding":{"x":{"datum":-2.4},"y":{"datum":3148.7}}},
{"data":{"values":[{"t":"XAUUSD · 15 · TRADENATIONSB"}]},"mark":{"type":"text","fontSize":11.3,"color":"#131722","align":"left"},"encoding":{"x":{"datum":-2.66},"y":{"datum":3274.37},"text":{"field":"t"}}},
{"data":{"values":[{"t":"O"}]},"mark":{"type":"text","fontSize":11.7,"color":"#131722","align":"left"},"encoding":{"x":{"datum":29.2},"y":{"datum":3274.37},"text":{"field":"t"}}},
{"data":{"values":[{"t":"3,173.95"}]},"mark":{"type":"text","fontSize":11.7,"color":"#26a69a","align":"left"},"encoding":{"x":{"datum":30.7},"y":{"datum":3274.37},"text":{"field":"t"}}},
{"data":{"values":[{"t":"H"}]},"mark":{"type":"text","fontSize":11.7,"color":"#131722","align":"left"},"encoding":{"x":{"datum":40.5},"y":{"datum":3274.37},"text":{"field":"t"}}},
{"data":{"values":[{"t":"3,176.19"}]},"mark":{"type":"text","fontSize":11.7,"color":"#26a69a","align":"left"},"encoding":{"x":{"datum":41.9},"y":{"datum":3274.37},"text":{"field":"t"}}},
{"data":{"values":[{"t":"L"}]},"mark":{"type":"text","fontSize":11.7,"color":"#131722","align":"left"},"encoding":{"x":{"datum":51.8},"y":{"datum":3274.37},"text":{"field":"t"}}},
{"data":{"values":[{"t":"3,172.71"}]},"mark":{"type":"text","fontSize":11.7,"color":"#26a69a","align":"left"},"encoding":{"x":{"datum":53},"y":{"datum":3274.37},"text":{"field":"t"}}},
{"data":{"values":[{"t":"C"}]},"mark":{"type":"text","fontSize":11.7,"color":"#131722","align":"left"},"encoding":{"x":{"datum":62.9},"y":{"datum":3274.37},"text":{"field":"t"}}},
{"data":{"values":[{"t":"3,175.52"}]},"mark":{"type":"text","fontSize":11.7,"color":"#26a69a","align":"left"},"encoding":{"x":{"datum":64.0},"y":{"datum":3274.37},"text":{"field":"t"}}},
{"data":{"values":[{"t":"Vol"}]},"mark":{"type":"text","fontSize":11.7,"color":"#131722","align":"left"},"encoding":{"x":{"datum":73.9},"y":{"datum":3274.37},"text":{"field":"t"}}},
{"data":{"values":[{"t":"417"}]},"mark":{"type":"text","fontSize":11.7,"color":"#26a69a","align":"left"},"encoding":{"x":{"datum":77.0},"y":{"datum":3274.37},"text":{"field":"t"}}},
{"data":{"values":[{"t":"3,171.45"}]},"mark":{"type":"text","fontSize":11.7,"color":"#00e600","align":"left"},"encoding":{"x":{"datum":-2.47},"y":{"datum":3270.9},"text":{"field":"t"}}},
{"data":{"values":[{"t":"0.00"}]},"mark":{"type":"text","fontSize":11.7,"color":"#00e600","align":"left"},"encoding":{"x":{"datum":7.4},"y":{"datum":3270.9},"text":{"field":"t"}}},
{"data":{"values":[{"t":"0.00"}]},"mark":{"type":"text","fontSize":11.7,"color":"#ff00ff","align":"left"},"encoding":{"x":{"datum":12.9},"y":{"datum":3270.9},"text":{"field":"t"}}},
{"data":{"values":[{"t":"0.00"}]},"mark":{"type":"text","fontSize":11.7,"color":"#42a5f5","align":"left"},"encoding":{"x":{"datum":-2.47},"y":{"datum":3267.2},"text":{"field":"t"}}},
{"data":{"values":[{"t":"0.00"}]},"mark":{"type":"text","fontSize":11.7,"color":"#42a5f5","align":"left"},"encoding":{"x":{"datum":3.0},"y":{"datum":3267.2},"text":{"field":"t"}}},
{"data":{"values":[{"t":"3,197.36"}]},"mark":{"type":"text","fontSize":11.7,"color":"#f23645","align":"left"},"encoding":{"x":{"datum":8.7},"y":{"datum":3267.2},"text":{"field":"t"}}},
{"data":{"values":[{"t":"3,180.42"}]},"mark":{"type":"text","fontSize":11.7,"color":"#131722","align":"left"},"encoding":{"x":{"datum":18.6},"y":{"datum":3267.2},"text":{"field":"t"}}},
{"data":{"values":[{"t":"Ø"}]},"mark":{"type":"text","fontSize":11.7,"color":"#131722","align":"left"},"encoding":{"x":{"datum":29.0},"y":{"datum":3267.2},"text":{"field":"t"}}},
{"data":{"values":[{"t":"Ø"}]},"mark":{"type":"text","fontSize":11.7,"color":"#131722","align":"left"},"encoding":{"x":{"datum":31.9},"y":{"datum":3267.2},"text":{"field":"t"}}},
{"data":{"values":[{"t":"3,168.07"}]},"mark":{"type":"text","fontSize":11.7,"color":"#00bcd4","align":"left"},"encoding":{"x":{"datum":34.0},"y":{"datum":3267.2},"text":{"field":"t"}}},
{"data":{"values":[{"t":"3,191.05"}]},"mark":{"type":"text","fontSize":11.7,"color":"#e91e63","align":"left"},"encoding":{"x":{"datum":43.9},"y":{"datum":3267.2},"text":{"field":"t"}}}
]}
